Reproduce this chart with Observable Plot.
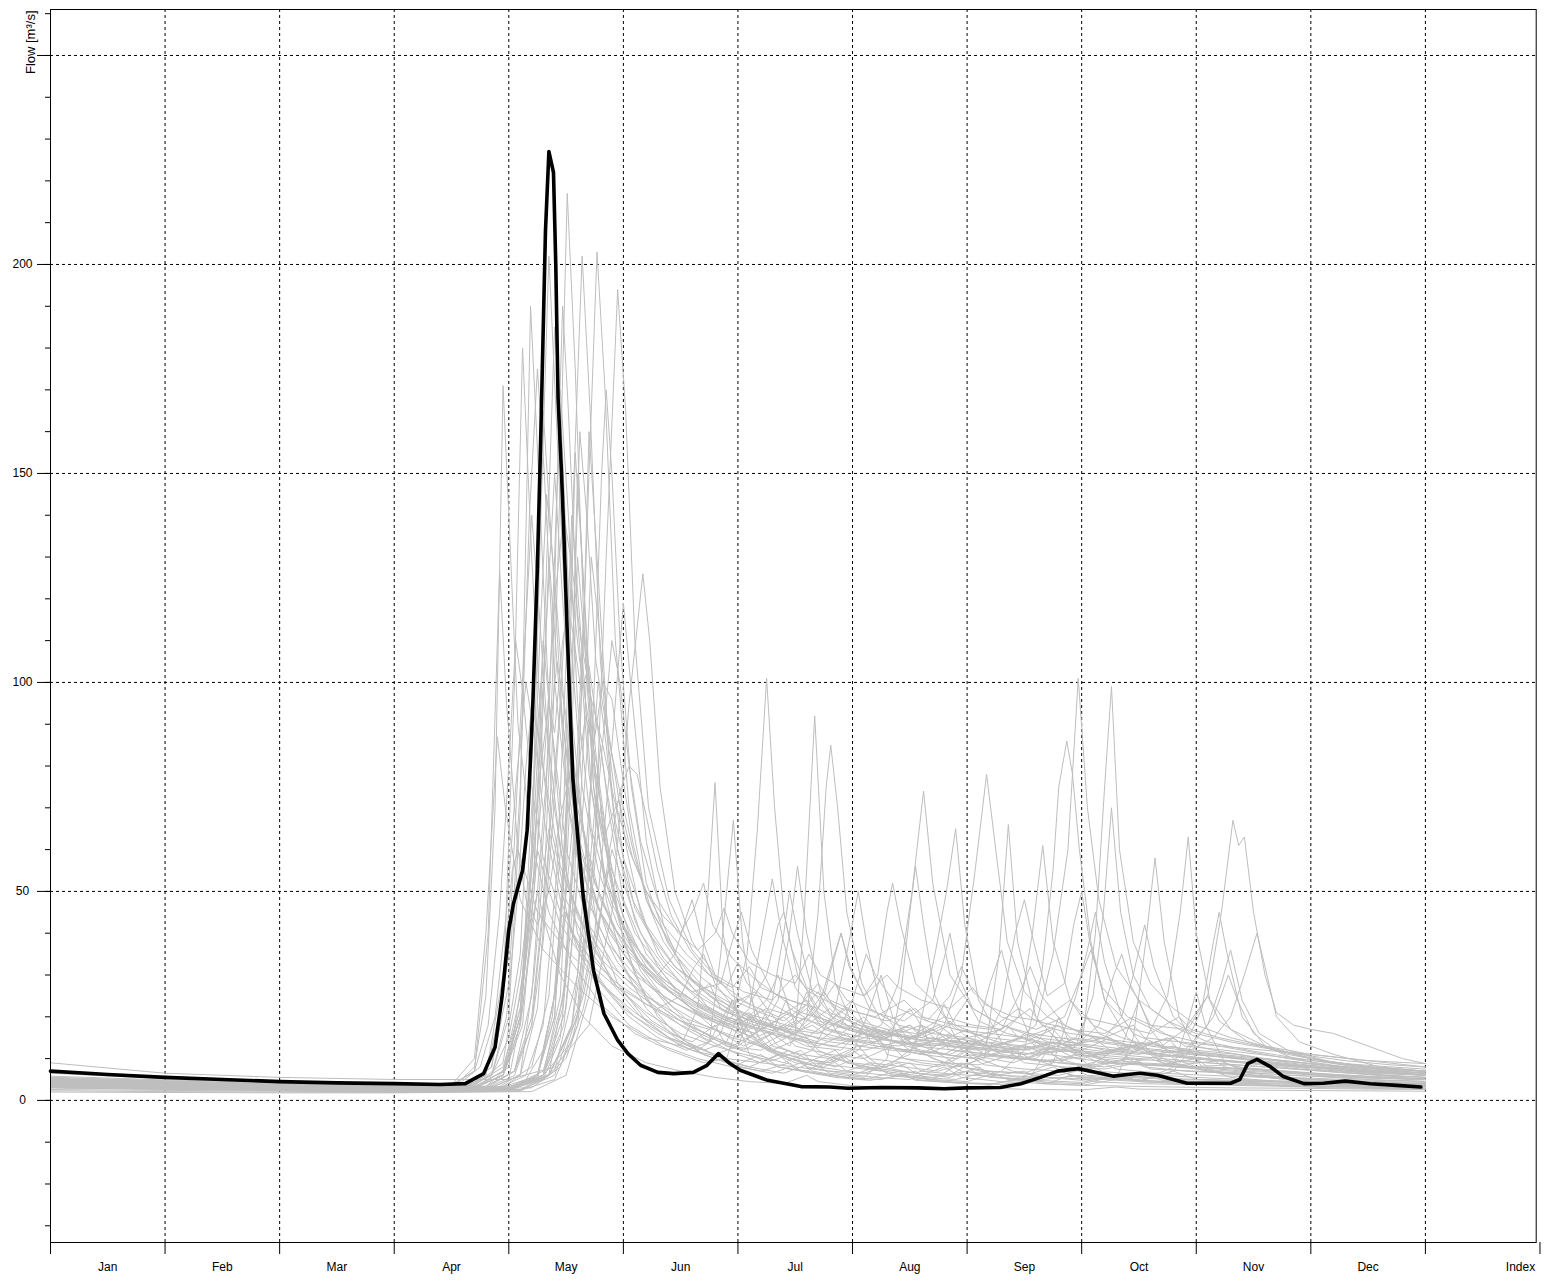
<!DOCTYPE html>
<html><head><meta charset="utf-8">
<script src="https://cdn.jsdelivr.net/npm/d3@7"></script>
<script src="https://cdn.jsdelivr.net/npm/@observablehq/plot@0.6"></script>
<style>body{margin:0;background:#fff} svg{display:block;overflow:visible}</style>
</head><body><div id="chart"></div>
<script>
// Axis / label arrays
const monthLabels = ["Jan","Feb","Mar","Apr","May","Jun","Jul","Aug","Sep","Oct","Nov","Dec","Index"];
const monthLabelPos = [0.5,1.5,2.5,3.5,4.5,5.5,6.5,7.5,8.5,9.5,10.5,11.5,12.83];
const monthBounds = [0,1,2,3,4,5,6,7,8,9,10,11,12,13];
const gridMonths = [1,2,3,4,5,6,7,8,9,10,11,12];
const yMajor = [0,50,100,150,200,250];
const yMajorLabels = ["0","50","100","150","200",""];
const yMinor = [-30,-20,-10,0,10,20,30,40,50,60,70,80,90,100,110,120,130,140,150,160,170,180,190,200,210,220,230,240,250,260];
const yAxisTitle = "Flow [m³/s]";

// Highlighted (black) series: month position and flow
const observedMonth = [0,0.5,1,1.5,2,2.5,3,3.4,3.62,3.78,3.88,3.94,4.0,4.04,4.12,4.16,4.19,4.21,4.25,4.28,4.32,4.35,4.39,4.41,4.43,4.46,4.48,4.51,4.54,4.56,4.61,4.65,4.74,4.83,4.95,5.04,5.15,5.3,5.44,5.61,5.73,5.83,5.93,6.02,6.26,6.55,6.8,6.96,7.25,7.57,7.8,8.0,8.29,8.47,8.64,8.79,8.97,9.16,9.28,9.4,9.51,9.66,9.92,10.3,10.38,10.45,10.53,10.65,10.76,10.94,11.11,11.3,11.52,11.75,11.96];
const observedFlow  = [7,6.2,5.5,5,4.5,4.2,4,3.8,4,6.4,12.7,24.6,40.7,47,55,64.6,82,95,128,160,208,227,222,200,168,150,136,112,90,76.6,60.5,48.6,31,20.8,14.4,11.2,8.4,6.7,6.4,6.7,8.4,11.2,8.8,7.2,4.8,3.3,3.2,2.9,3.1,3.0,2.8,3.0,3.1,4,5.5,7,7.6,6.5,5.8,6.2,6.5,6,4.1,4.1,5,8.8,9.8,8,5.7,4,4.1,4.6,4,3.6,3.2];

// Other years (grey): [month, flow] pairs
const y01 = [[0,6.5],[1,5.2],[2,4.4],[3,3.8],[3.55,4],[3.7,8],[3.8,25],[3.88,70],[3.95,171],[4.0,140],[4.08,90],[4.2,62],[4.35,45],[4.55,33],[4.8,23],[5.1,16],[5.4,12],[5.7,9],[5.9,10],[6.0,18],[6.1,11],[6.35,8],[6.6,7],[6.8,10],[6.95,7],[7.3,6],[7.7,5],[7.95,9],[8.1,6],[8.5,5],[8.8,7],[9.0,5.5],[9.5,5],[9.8,7],[10.0,5],[10.5,4.5],[11,4.2],[11.5,4],[12,3.8]];
const y02 = [[0,5],[1,4.2],[2,3.6],[3,3.2],[3.5,3.5],[3.7,7],[3.82,40],[3.92,127],[3.98,95],[4.08,60],[4.25,45],[4.5,36],[4.8,28],[5.1,21],[5.4,16],[5.6,14],[5.8,18],[5.9,13],[6.2,12],[6.5,16],[6.58,45],[6.67,92],[6.75,50],[6.85,28],[7.0,18],[7.3,13],[7.6,11],[7.85,15],[8.0,11],[8.4,9],[8.7,12],[8.85,9],[9.2,8],[9.6,10],[9.8,8],[10.3,7],[10.8,6],[11.3,5.5],[12,5]];
const y03 = [[0,5.5],[1,4.6],[2,4],[3,3.5],[3.5,3.7],[3.7,10],[3.8,40],[3.9,87],[3.97,70],[4.1,48],[4.3,36],[4.6,27],[4.9,20],[5.2,15],[5.5,13],[5.65,22],[5.74,50],[5.8,76],[5.87,40],[6.0,20],[6.2,13],[6.45,10],[6.7,8],[6.9,11],[7.05,8],[7.4,6.5],[7.7,5.5],[8.0,7],[8.2,5.5],[8.6,4.8],[9.0,6],[9.3,5],[9.7,4.5],[10.1,4.2],[10.6,4],[11.2,3.6],[12,3.3]];
const y04 = [[0,4.5],[1,3.8],[2,3.2],[3,2.8],[3.6,3],[3.8,6],[3.95,25],[4.05,100],[4.12,180],[4.2,130],[4.3,80],[4.45,56],[4.65,42],[4.9,32],[5.2,25],[5.5,20],[5.8,17],[6.0,15],[6.2,22],[6.35,16],[6.6,13],[6.9,12],[7.1,18],[7.25,13],[7.6,11],[7.9,10],[8.1,14],[8.3,11],[8.6,10],[8.85,15],[9.0,13],[9.12,40],[9.2,75],[9.26,99],[9.33,60],[9.45,38],[9.6,28],[9.8,22],[10.0,18],[10.3,15],[10.6,13],[11,11],[11.5,9.5],[12,8.8]];
const y05 = [[0,4],[1,3.5],[2,3],[3,2.6],[3.6,2.8],[3.85,6],[4.0,20],[4.1,70],[4.19,190],[4.26,150],[4.35,95],[4.5,60],[4.7,42],[4.95,31],[5.25,23],[5.55,17],[5.75,14],[5.95,24],[6.05,16],[6.3,12],[6.55,10],[6.8,9],[7.05,12],[7.2,17],[7.3,11],[7.6,9],[7.9,8],[8.15,10],[8.28,35],[8.36,66],[8.44,38],[8.6,20],[8.8,14],[9.0,11],[9.3,9],[9.55,13],[9.7,9],[10.0,8],[10.4,7],[10.8,6.5],[11.3,5.5],[12,5]];
const y06 = [[0,4.8],[1,4],[2,3.4],[3,3],[3.7,3.2],[3.95,6],[4.1,20],[4.2,60],[4.28,140],[4.35,202],[4.42,160],[4.52,100],[4.65,65],[4.8,48],[5.0,37],[5.3,28],[5.6,22],[5.9,18],[6.15,16],[6.4,20],[6.55,16],[6.8,14],[7.1,13],[7.4,16],[7.55,13],[7.9,12],[8.2,11],[8.5,13],[8.7,11],[9.0,10],[9.3,12],[9.55,14],[9.75,25],[9.86,45],[9.93,63],[10.0,40],[10.12,24],[10.3,17],[10.6,13],[11,10],[11.5,8],[12,6.8]];
const y07 = [[0,3.5],[1,3],[2,2.6],[3,2.3],[3.8,2.6],[4.1,6],[4.25,22],[4.35,60],[4.43,130],[4.51,217],[4.58,175],[4.66,110],[4.78,70],[4.95,45],[5.15,31],[5.4,22],[5.7,15],[6.0,11],[6.2,9],[6.45,12],[6.6,8],[6.9,6.5],[7.2,5.5],[7.5,5],[7.8,8],[7.95,5.5],[8.3,4.5],[8.7,4],[8.9,6],[9.1,4.5],[9.5,4],[9.9,3.8],[10.3,3.6],[10.7,3.4],[11.2,3],[12,2.7]];
const y08 = [[0,4.2],[1,3.6],[2,3.1],[3,2.7],[3.9,3],[4.2,8],[4.35,25],[4.48,70],[4.57,150],[4.64,202],[4.71,165],[4.8,105],[4.92,68],[5.1,46],[5.35,34],[5.6,27],[5.85,22],[6.1,19],[6.35,17],[6.6,22],[6.75,17],[7.0,15],[7.25,18],[7.4,28],[7.52,50],[7.62,74],[7.7,52],[7.85,30],[8.05,22],[8.3,18],[8.6,15],[8.9,14],[9.2,12],[9.5,11],[9.8,13],[10.0,11],[10.4,10],[10.8,8.5],[11.3,7],[12,6]];
const y09 = [[0,3.8],[1,3.3],[2,2.9],[3,2.6],[4.0,3],[4.3,7],[4.48,25],[4.6,70],[4.7,150],[4.77,203],[4.84,170],[4.93,110],[5.05,70],[5.2,48],[5.45,35],[5.7,27],[5.95,22],[6.2,19],[6.45,17],[6.7,16],[6.95,20],[7.1,16],[7.4,14],[7.7,13],[8.0,15],[8.2,13],[8.45,20],[8.57,40],[8.66,61],[8.75,38],[8.9,24],[9.1,18],[9.35,15],[9.6,13],[9.9,12],[10.2,11],[10.6,9],[11,8],[11.5,7],[12,6]];
const y10 = [[0,3.6],[1,3.1],[2,2.7],[3,2.4],[4.0,2.6],[4.35,6],[4.6,20],[4.75,60],[4.85,130],[4.95,194],[5.02,165],[5.1,110],[5.22,70],[5.4,48],[5.6,36],[5.85,28],[6.1,23],[6.35,20],[6.6,24],[6.75,19],[7.0,17],[7.3,15],[7.6,18],[7.75,14],[8.0,13],[8.3,12],[8.6,14],[8.8,12],[9.1,11],[9.4,13],[9.6,11],[9.9,12],[10.1,18],[10.22,28],[10.3,36],[10.4,24],[10.55,16],[10.8,12],[11.2,9],[11.6,7.5],[12,6.5]];
const y11 = [[0,4.3],[1,3.7],[2,3.2],[3,2.8],[4.0,3],[4.3,6],[4.55,14],[4.75,40],[4.9,85],[5.0,119],[5.08,95],[5.2,62],[5.35,42],[5.55,29],[5.8,20],[6.05,15],[6.3,12],[6.55,15],[6.7,11],[7.0,9],[7.3,8],[7.55,13],[7.72,35],[7.82,50],[7.9,65],[7.98,42],[8.1,24],[8.3,14],[8.55,10],[8.8,8],[9.1,7],[9.4,6.5],[9.7,6],[10.0,5.5],[10.4,5],[10.9,4.5],[11.5,4],[12,3.6]];
const y12 = [[0,9],[1,6.5],[2,5.5],[3,5],[4.0,5],[4.4,8],[4.7,18],[4.9,45],[5.05,95],[5.17,126],[5.23,110],[5.32,75],[5.45,50],[5.6,38],[5.8,30],[6.05,26],[6.3,24],[6.5,30],[6.62,26],[6.9,22],[7.2,20],[7.45,24],[7.6,20],[7.9,18],[8.2,17],[8.45,22],[8.6,19],[8.9,17],[9.2,16],[9.45,20],[9.6,18],[9.9,17],[10.1,25],[10.22,45],[10.32,67],[10.37,61],[10.42,63],[10.5,45],[10.6,30],[10.7,21],[10.85,18],[11.0,17],[11.2,16],[11.5,13],[11.8,10],[12,8.8]];
const y13 = [[0,5],[1,4.2],[2,3.6],[3,3.1],[3.7,3.3],[3.95,7],[4.1,20],[4.22,55],[4.32,110],[4.4,150],[4.47,120],[4.57,80],[4.7,56],[4.9,42],[5.15,33],[5.45,26],[5.75,21],[6.0,18],[6.25,22],[6.4,17],[6.7,15],[7.0,14],[7.3,17],[7.45,14],[7.8,13],[8.1,12],[8.4,14],[8.6,18],[8.75,35],[8.88,60],[8.97,101],[9.05,70],[9.15,48],[9.3,32],[9.5,24],[9.75,19],[10.0,16],[10.3,14],[10.7,12],[11.2,9],[11.7,7.5],[12,7]];
const y14 = [[0,4.4],[1,3.8],[2,3.3],[3,2.9],[3.7,3],[3.95,6],[4.1,18],[4.2,55],[4.3,110],[4.37,90],[4.47,60],[4.6,40],[4.8,28],[5.05,20],[5.3,15],[5.55,12],[5.75,14],[5.85,35],[5.96,67],[6.04,38],[6.15,20],[6.35,13],[6.6,10],[6.85,8],[7.1,11],[7.25,8],[7.55,6.5],[7.85,5.5],[8.1,8],[8.25,5.5],[8.6,4.8],[9.0,4.3],[9.3,6],[9.5,4.5],[9.9,4],[10.3,3.8],[10.8,3.5],[11.4,3.2],[12,3]];
const y15 = [[0,3.9],[1,3.4],[2,3],[3,2.6],[3.9,2.8],[4.15,6],[4.3,18],[4.42,55],[4.5,105],[4.55,140],[4.62,115],[4.72,75],[4.85,52],[5.05,39],[5.3,30],[5.6,24],[5.9,20],[6.15,18],[6.4,16],[6.65,21],[6.8,17],[7.1,15],[7.4,14],[7.7,17],[7.85,14],[8.15,13],[8.45,12],[8.75,14],[8.95,13],[9.1,25],[9.19,45],[9.26,70],[9.34,45],[9.45,30],[9.6,22],[9.85,17],[10.1,14],[10.45,12],[10.9,10],[11.4,8],[12,7]];
const y16 = [[0,4.6],[1,4],[2,3.5],[3,3.1],[3.8,3.3],[4.05,7],[4.2,20],[4.33,55],[4.45,95],[4.52,80],[4.62,58],[4.76,43],[4.95,33],[5.2,25],[5.5,19],[5.8,15],[6.05,12],[6.3,16],[6.45,13],[6.6,20],[6.7,45],[6.77,75],[6.81,85],[6.87,70],[6.95,45],[7.08,28],[7.25,19],[7.5,14],[7.8,11],[8.05,10],[8.3,13],[8.45,10],[8.8,9],[9.1,8],[9.4,10],[9.55,8],[9.9,7],[10.3,6.5],[10.8,5.5],[11.3,5],[12,4.5]];
const y17 = [[0,3.3],[1,2.9],[2,2.6],[3,2.3],[4.0,2.5],[4.3,5],[4.45,15],[4.57,50],[4.65,110],[4.7,160],[4.77,130],[4.87,85],[5.0,58],[5.2,42],[5.45,32],[5.75,25],[6.05,21],[6.3,19],[6.55,17],[6.8,22],[6.95,18],[7.25,16],[7.55,15],[7.8,18],[7.95,30],[8.07,55],[8.17,78],[8.25,60],[8.35,38],[8.5,26],[8.7,20],[9.0,16],[9.3,14],[9.6,12],[9.95,11],[10.4,10],[10.9,8.5],[11.5,7],[12,6.2]];
const y18 = [[0,2.3],[1,2.1],[2,2],[3,1.9],[4.1,2.2],[4.35,6],[4.5,30],[4.6,75],[4.67,60],[4.78,40],[4.95,28],[5.2,19],[5.5,13],[5.8,10],[6.1,8],[6.35,11],[6.5,7.5],[6.8,6],[7.1,5],[7.4,7],[7.55,5],[7.9,4.2],[8.2,3.8],[8.5,5.5],[8.65,4],[9.0,3.6],[9.3,5],[9.45,15],[9.56,38],[9.64,58],[9.72,38],[9.85,20],[10.0,12],[10.25,8],[10.6,6],[11,5],[11.5,4],[12,3.4]];
const y19 = [[0,4.1],[1,3.6],[2,3.1],[3,2.8],[3.7,3],[3.95,7],[4.1,25],[4.18,45],[4.25,60],[4.33,52],[4.45,42],[4.65,34],[4.9,28],[5.2,23],[5.5,19],[5.75,17],[5.95,20],[6.08,35],[6.17,65],[6.25,101],[6.32,70],[6.4,45],[6.52,30],[6.7,22],[6.95,18],[7.2,16],[7.5,15],[7.75,18],[7.9,15],[8.2,13],[8.5,12],[8.8,14],[8.95,12],[9.3,11],[9.7,10],[10.1,9],[10.6,8],[11.1,7],[11.6,6],[12,5.5]];
const y20 = [[0,3.4],[1,3],[2,2.6],[3,2.3],[4.1,2.5],[4.4,6],[4.6,22],[4.72,60],[4.8,85],[4.88,68],[5.0,48],[5.2,35],[5.45,27],[5.7,22],[5.95,19],[6.2,17],[6.35,24],[6.45,40],[6.52,56],[6.6,40],[6.72,26],[6.9,20],[7.15,17],[7.45,15],[7.75,14],[8.0,17],[8.15,14],[8.5,13],[8.8,12],[9.1,15],[9.25,12],[9.6,11],[9.95,12],[10.15,15],[10.3,20],[10.42,30],[10.53,40],[10.6,32],[10.7,20],[10.9,14],[11.2,11],[11.6,8],[12,7]];
const y21 = [[0,3.2],[1,2.8],[2,2.5],[3,2.2],[4.0,2.4],[4.25,6],[4.4,25],[4.5,45],[4.6,36],[4.8,26],[5.05,18],[5.35,13],[5.65,10],[5.95,8],[6.2,11],[6.35,8],[6.65,6.5],[6.95,5.5],[7.2,8],[7.35,6],[7.7,5],[8.0,4.5],[8.3,7],[8.5,12],[8.65,30],[8.75,55],[8.8,75],[8.87,86],[8.92,78],[8.98,60],[9.08,38],[9.2,24],[9.4,15],[9.65,10],[9.9,8],[10.2,6.5],[10.6,5.5],[11,5],[11.5,4.2],[12,3.8]];
const y22 = [[0,2],[1,1.9],[2,1.8],[3,1.8],[4.2,2.1],[4.5,6],[4.7,25],[4.8,45],[4.87,55],[4.95,44],[5.1,30],[5.3,20],[5.55,14],[5.85,10],[6.1,8],[6.4,6.5],[6.65,9],[6.8,6.5],[7.1,5.5],[7.3,10],[7.42,25],[7.5,45],[7.55,56],[7.62,42],[7.72,25],[7.9,15],[8.1,10],[8.4,7],[8.7,5.5],[9.0,4.8],[9.35,6],[9.5,4.5],[9.8,8],[9.92,18],[10.0,26],[10.08,18],[10.25,9],[10.5,6],[10.9,4.5],[11.4,3.5],[12,2.8]];
const y23 = [[0,4.7],[1,4.1],[2,3.5],[3,3.1],[3.7,3.3],[3.95,6],[4.12,18],[4.25,60],[4.35,130],[4.42,105],[4.52,70],[4.65,50],[4.85,38],[5.1,30],[5.4,24],[5.7,20],[5.95,18],[6.1,22],[6.2,38],[6.3,53],[6.38,40],[6.5,27],[6.7,20],[6.95,17],[7.2,15],[7.5,18],[7.65,15],[7.95,14],[8.25,13],[8.55,16],[8.7,14],[9.0,13],[9.3,12],[9.6,14],[9.75,12],[10.1,11],[10.5,10],[10.9,9],[11.4,7.5],[12,6.5]];
const y24 = [[0,3.7],[1,3.2],[2,2.8],[3,2.5],[4.0,2.7],[4.3,6],[4.47,22],[4.57,65],[4.65,115],[4.72,95],[4.82,65],[4.95,45],[5.15,32],[5.4,23],[5.65,17],[5.9,13],[6.15,11],[6.4,9],[6.65,12],[6.85,22],[6.97,38],[7.05,50],[7.12,38],[7.25,22],[7.45,14],[7.7,10],[7.95,8],[8.2,7],[8.5,6.5],[8.75,9],[8.95,25],[9.05,36],[9.12,45],[9.2,33],[9.35,20],[9.55,12],[9.8,9],[10.1,7],[10.5,6],[11,5],[11.5,4.5],[12,4]];
const y25 = [[0,4.9],[1,4.2],[2,3.6],[3,3.1],[3.8,3.3],[4.0,8],[4.12,30],[4.2,70],[4.28,100],[4.35,85],[4.45,60],[4.6,44],[4.8,34],[5.05,27],[5.3,22],[5.5,25],[5.62,32],[5.7,35],[5.8,28],[6.0,21],[6.25,18],[6.5,16],[6.7,22],[6.82,33],[6.9,40],[6.98,32],[7.15,22],[7.4,18],[7.7,16],[8.0,15],[8.3,17],[8.45,25],[8.55,32],[8.65,25],[8.85,18],[9.1,15],[9.4,14],[9.7,13],[9.95,18],[10.1,25],[10.2,19],[10.45,14],[10.8,11],[11.3,8.5],[12,7]];
const y26 = [[0,3.1],[1,2.7],[2,2.4],[3,2.1],[4.0,2.3],[4.25,5],[4.4,25],[4.47,50],[4.52,75],[4.6,58],[4.72,40],[4.9,28],[5.15,20],[5.4,15],[5.65,12],[5.85,16],[5.95,24],[6.05,18],[6.25,12],[6.5,9],[6.75,8],[7.0,11],[7.15,22],[7.25,30],[7.35,20],[7.55,12],[7.8,9],[8.05,13],[8.2,28],[8.3,36],[8.4,25],[8.55,15],[8.8,10],[9.05,8],[9.35,13],[9.5,24],[9.6,17],[9.8,10],[10.05,7.5],[10.4,6],[10.8,5],[11.3,4.2],[12,3.5]];
const y27 = [[0,3.9],[1,3.4],[2,3],[3,2.7],[4.2,3],[4.45,8],[4.65,25],[4.8,45],[4.9,60],[5.0,52],[5.15,40],[5.35,32],[5.6,26],[5.85,28],[5.95,38],[6.03,45],[6.12,36],[6.3,26],[6.55,21],[6.8,19],[7.0,24],[7.12,35],[7.2,30],[7.4,22],[7.65,19],[7.85,25],[7.95,32],[8.05,26],[8.3,20],[8.6,17],[8.85,20],[9.0,30],[9.08,36],[9.18,27],[9.4,20],[9.7,16],[10.0,14],[10.4,12],[10.8,10],[11.3,8],[12,6.5]];
const y28 = [[0,3.6],[1,3.1],[2,2.7],[3,2.4],[4.1,2.6],[4.4,7],[4.6,30],[4.7,70],[4.78,100],[4.85,85],[4.95,60],[5.1,43],[5.3,32],[5.55,23],[5.8,17],[6.05,13],[6.3,16],[6.42,24],[6.5,18],[6.7,12],[6.95,9],[7.2,7.5],[7.5,11],[7.6,18],[7.7,12],[7.95,8],[8.2,6.5],[8.45,5.5],[8.75,8],[8.9,6],[9.2,5],[9.5,4.5],[9.8,7],[9.95,12],[10.05,8],[10.3,5.5],[10.7,4.5],[11.2,4],[12,3.5]];
const y29 = [[0,4.3],[1,3.7],[2,3.2],[3,2.8],[3.6,3],[3.85,8],[4.0,35],[4.1,90],[4.2,140],[4.27,115],[4.37,75],[4.5,52],[4.7,38],[4.95,27],[5.25,19],[5.55,14],[5.8,11],[6.0,13],[6.1,20],[6.2,14],[6.45,10],[6.7,8],[6.95,7],[7.15,9],[7.3,6.5],[7.6,5.5],[7.9,5],[8.2,7],[8.35,5],[8.7,4.3],[9.0,4],[9.35,6],[9.5,4.5],[9.9,4],[10.4,3.7],[10.9,3.4],[11.5,3.1],[12,2.9]];
const y30 = [[0,4],[1,3.5],[2,3],[3,2.7],[3.8,2.9],[4.05,7],[4.2,25],[4.32,70],[4.4,130],[4.45,170],[4.52,140],[4.6,95],[4.72,65],[4.9,47],[5.1,37],[5.35,29],[5.65,23],[5.95,19],[6.2,17],[6.45,21],[6.6,17],[6.9,15],[7.2,14],[7.45,17],[7.6,14],[7.9,13],[8.2,12],[8.5,11],[8.8,13],[8.95,11],[9.3,10],[9.7,9.5],[10.1,9],[10.6,8],[11.1,7],[11.6,6],[12,5.5]];
const y31 = [[0,3.5],[1,3],[2,2.7],[3,2.4],[4.0,2.6],[4.25,6],[4.4,20],[4.5,70],[4.58,155],[4.65,125],[4.75,80],[4.9,55],[5.1,40],[5.35,31],[5.65,25],[5.9,21],[6.15,19],[6.4,17],[6.6,20],[6.75,26],[6.85,22],[7.1,18],[7.35,16],[7.6,15],[7.85,18],[8.0,24],[8.1,19],[8.35,16],[8.65,14],[8.9,13],[9.2,15],[9.35,20],[9.45,16],[9.7,13],[10.0,12],[10.35,11],[10.8,9],[11.3,7.5],[12,6]];
const y32 = [[0,5.2],[1,4.4],[2,3.8],[3,3.3],[3.7,3.5],[3.95,9],[4.1,35],[4.2,90],[4.3,165],[4.37,135],[4.47,90],[4.6,62],[4.78,46],[5.0,36],[5.3,28],[5.6,23],[5.9,19],[6.15,17],[6.4,15],[6.65,18],[6.8,15],[7.1,14],[7.4,13],[7.7,15],[7.85,13],[8.2,12],[8.5,11],[8.8,12],[9.1,11],[9.5,10],[9.9,11],[10.15,20],[10.28,30],[10.36,24],[10.5,16],[10.7,12],[11,10],[11.5,8],[12,7]];
const y33 = [[0,4.6],[1,3.9],[2,3.4],[3,3],[3.6,3.3],[3.85,6],[4.0,15],[4.1,30],[4.2,55],[4.28,80],[4.35,95],[4.4,88],[4.47,110],[4.55,122],[4.62,105],[4.7,90],[4.78,70],[4.9,52],[5.05,40],[5.2,33],[5.4,27],[5.6,24],[5.75,28],[5.85,22],[6.05,19],[6.25,24],[6.35,30],[6.45,22],[6.7,18],[6.9,16],[7.1,20],[7.2,17],[7.45,15],[7.7,14],[7.85,19],[8.0,15],[8.3,13],[8.55,12],[8.7,17],[8.85,13],[9.1,12],[9.4,11],[9.65,14],[9.8,11],[10.1,10],[10.5,9],[11,7.5],[11.5,6.5],[12,6]];
const y34 = [[0,3.8],[1,3.3],[2,2.9],[3,2.6],[3.9,2.8],[4.15,5],[4.3,12],[4.42,28],[4.52,55],[4.6,78],[4.67,92],[4.74,85],[4.82,100],[4.9,96],[4.98,80],[5.08,62],[5.2,48],[5.35,38],[5.55,30],[5.75,25],[5.95,21],[6.1,25],[6.2,19],[6.45,16],[6.7,14],[6.9,18],[7.0,24],[7.1,18],[7.35,14],[7.6,12],[7.85,11],[8.1,14],[8.2,11],[8.5,10],[8.8,9],[9.0,12],[9.15,10],[9.5,9],[9.85,8.5],[10.2,9.5],[10.35,8],[10.8,7],[11.3,6],[12,5]];
const y35 = [[0,4.5],[1,3.9],[2,3.4],[3,3],[4.0,3.2],[4.3,5],[4.5,10],[4.65,22],[4.78,40],[4.88,60],[4.97,74],[5.05,80],[5.12,78],[5.2,68],[5.3,55],[5.42,44],[5.58,36],[5.75,30],[5.9,27],[6.0,33],[6.08,28],[6.3,23],[6.5,20],[6.7,26],[6.8,21],[7.05,18],[7.3,16],[7.5,22],[7.6,18],[7.85,15],[8.1,14],[8.35,18],[8.45,15],[8.75,13],[9.0,12],[9.25,15],[9.35,12],[9.7,11],[10.05,10],[10.5,9],[11,8],[11.5,7],[12,6.5]];
const y36 = [[0,5.8],[1,4.9],[2,4.2],[3,3.6],[3.5,3.8],[3.7,7],[3.82,18],[3.92,45],[4.0,80],[4.06,110],[4.12,98],[4.2,75],[4.3,58],[4.45,45],[4.65,36],[4.9,29],[5.2,23],[5.5,18],[5.75,15],[5.95,13],[6.15,16],[6.3,12],[6.55,10],[6.8,9],[7.0,12],[7.15,9],[7.45,8],[7.75,7],[8.0,9],[8.15,7],[8.5,6.5],[8.8,6],[9.1,8],[9.25,6],[9.6,5.5],[10.0,5],[10.5,4.7],[11,4.4],[11.5,4.1],[12,3.9]];
const y37 = [[0,3.2],[1,2.8],[2,2.5],[3,2.3],[4.0,2.5],[4.3,6],[4.45,25],[4.53,70],[4.6,130],[4.66,110],[4.74,75],[4.82,62],[4.9,68],[4.96,72],[5.03,60],[5.15,45],[5.3,35],[5.5,28],[5.7,23],[5.9,20],[6.1,18],[6.3,16],[6.5,19],[6.6,26],[6.7,21],[6.95,17],[7.2,15],[7.45,14],[7.7,17],[7.8,23],[7.9,18],[8.15,15],[8.4,13],[8.7,12],[8.95,15],[9.05,20],[9.15,16],[9.4,13],[9.7,11],[10.0,10],[10.4,9],[10.9,7.5],[11.4,6.5],[12,5.5]];
const y38 = [[0,5.5],[1,4.7],[2,4],[3,3.5],[3.7,3.7],[3.95,8],[4.1,22],[4.22,50],[4.32,85],[4.4,120],[4.48,140],[4.55,128],[4.63,110],[4.72,96],[4.82,85],[4.92,72],[5.05,60],[5.2,50],[5.35,42],[5.55,35],[5.75,30],[5.95,27],[6.1,32],[6.2,27],[6.45,24],[6.7,22],[6.85,28],[6.95,24],[7.2,21],[7.45,19],[7.7,24],[7.8,20],[8.05,18],[8.3,17],[8.55,22],[8.65,18],[8.9,16],[9.2,15],[9.45,18],[9.55,15],[9.85,14],[10.2,13],[10.6,12],[11,11],[11.5,9.5],[12,8]];
const y39 = [[0,3],[1,2.7],[2,2.4],[3,2.2],[3.9,2.4],[4.1,6],[4.22,30],[4.3,55],[4.35,65],[4.42,55],[4.55,40],[4.75,30],[5.0,22],[5.3,16],[5.6,12],[5.9,10],[6.2,9],[6.5,8],[6.8,7],[7.1,6.5],[7.4,9],[7.55,6.5],[7.85,6],[8.1,10],[8.3,22],[8.42,40],[8.5,48],[8.58,38],[8.7,25],[8.85,28],[8.93,42],[9.0,50],[9.07,38],[9.2,24],[9.35,20],[9.45,30],[9.55,42],[9.63,32],[9.8,20],[9.95,16],[10.05,22],[10.15,38],[10.2,45],[10.27,35],[10.4,20],[10.6,13],[10.85,10],[11.2,8],[11.6,6],[12,5]];
const y40 = [[0,4],[1,3.5],[2,3],[3,2.7],[4.0,2.9],[4.3,6],[4.5,22],[4.62,60],[4.7,90],[4.77,80],[4.88,58],[5.0,44],[5.15,35],[5.3,30],[5.45,35],[5.55,44],[5.6,48],[5.67,40],[5.8,30],[5.95,25],[6.1,23],[6.25,30],[6.35,42],[6.4,45],[6.47,36],[6.6,27],[6.75,25],[6.85,35],[6.9,40],[6.97,32],[7.1,25],[7.22,30],[7.3,45],[7.35,52],[7.42,42],[7.55,28],[7.7,24],[7.8,34],[7.85,40],[7.92,30],[8.05,22],[8.3,18],[8.55,16],[8.8,15],[9.1,14],[9.4,13],[9.7,12],[10.0,11],[10.5,9.5],[11,8],[11.5,7],[12,6]];
const y41 = [[0,2.6],[1,2.4],[2,2.2],[3,2],[3.8,2.2],[4.0,5],[4.12,22],[4.2,42],[4.25,50],[4.32,42],[4.45,30],[4.65,20],[4.9,13],[5.2,9],[5.5,7],[5.8,5.5],[6.1,4.5],[6.4,4],[6.6,6],[6.7,4.5],[7.0,3.5],[7.3,3.1],[7.6,2.9],[7.9,2.7],[8.2,3.5],[8.3,2.8],[8.6,2.6],[9.0,2.5],[9.3,3.2],[9.5,2.7],[9.9,2.6],[10.3,2.5],[10.8,2.4],[11.3,2.3],[12,2.2]];
const y42 = [[0,3],[1,2.6],[2,2.4],[3,2.2],[4.1,2.4],[4.4,5],[4.6,18],[4.72,48],[4.8,70],[4.87,58],[5.0,38],[5.2,24],[5.45,16],[5.7,11],[6.0,8],[6.3,6.5],[6.55,9],[6.65,7],[6.95,5.5],[7.25,5],[7.55,7],[7.65,5],[7.95,4.2],[8.25,4],[8.55,5.5],[8.7,12],[8.8,20],[8.9,13],[9.1,7],[9.4,5],[9.75,4.5],[10.1,4.2],[10.6,3.8],[11.1,3.4],[11.6,3.1],[12,2.9]];
const y43 = [[0,5.3],[1,4.5],[2,3.9],[3,3.4],[3.55,3.6],[3.75,8],[3.88,20],[3.98,45],[4.06,75],[4.15,100],[4.22,88],[4.32,65],[4.45,48],[4.62,36],[4.85,27],[5.1,20],[5.4,15],[5.7,12],[5.9,14],[6.0,20],[6.1,14],[6.35,11],[6.6,9],[6.85,12],[6.95,9],[7.25,7.5],[7.55,6.5],[7.8,9],[7.95,7],[8.3,6],[8.65,5.5],[8.9,8],[9.05,6],[9.4,5.5],[9.8,5],[10.2,4.8],[10.7,4.5],[11.2,4.2],[12,4]];
const y44 = [[0,4.4],[1,3.8],[2,3.3],[3,2.9],[4.0,3.1],[4.35,6],[4.55,18],[4.7,45],[4.8,80],[4.9,110],[4.97,100],[5.05,80],[5.15,62],[5.3,48],[5.48,40],[5.65,36],[5.8,40],[5.88,46],[5.95,40],[6.1,33],[6.3,30],[6.5,28],[6.62,35],[6.72,30],[6.9,27],[7.1,25],[7.3,30],[7.4,27],[7.6,24],[7.85,22],[8.05,27],[8.15,23],[8.4,20],[8.65,19],[8.9,24],[9.0,20],[9.3,18],[9.6,16],[9.85,20],[9.95,17],[10.2,15],[10.55,13],[10.9,11],[11.3,9.5],[11.7,8.5],[12,8]];
const y45 = [[0,3.4],[1,3],[2,2.7],[3,2.4],[3.95,2.6],[4.25,6],[4.4,20],[4.5,60],[4.56,110],[4.6,150],[4.66,120],[4.74,75],[4.85,48],[5.0,32],[5.2,22],[5.45,15],[5.7,11],[5.95,8.5],[6.2,7],[6.45,9],[6.55,7],[6.85,5.5],[7.15,4.8],[7.45,6],[7.55,4.8],[7.9,4.2],[8.3,3.8],[8.6,5],[8.7,4],[9.0,3.6],[9.4,3.4],[9.8,3.2],[10.3,3],[10.9,2.9],[11.5,2.7],[12,2.6]];
const y46 = [[0,4.2],[1,3.6],[2,3.1],[3,2.8],[3.7,3],[3.95,6],[4.1,18],[4.25,50],[4.35,85],[4.42,105],[4.5,92],[4.6,70],[4.75,52],[4.95,40],[5.2,31],[5.45,25],[5.7,21],[5.95,18],[6.15,16],[6.3,24],[6.4,40],[6.45,50],[6.52,40],[6.65,26],[6.85,19],[7.1,16],[7.35,14],[7.6,13],[7.85,16],[8.0,13],[8.3,12],[8.6,11],[8.9,12],[9.15,18],[9.28,30],[9.35,35],[9.42,28],[9.6,18],[9.85,14],[10.15,12],[10.6,10],[11.1,8.5],[11.6,7],[12,6.5]];
const y47 = [[0,3.7],[1,3.2],[2,2.8],[3,2.5],[4.0,2.7],[4.35,6],[4.55,18],[4.68,50],[4.76,110],[4.81,150],[4.85,170],[4.9,150],[4.97,110],[5.07,75],[5.2,52],[5.38,38],[5.6,29],[5.85,23],[6.1,19],[6.35,17],[6.6,15],[6.8,19],[6.9,15],[7.2,13],[7.5,12],[7.75,15],[7.85,12],[8.2,11],[8.5,10],[8.8,12],[8.95,10],[9.3,9],[9.7,8.5],[10.0,10],[10.1,8],[10.5,7.5],[11,6.5],[11.5,5.5],[12,5]];
const y48 = [[0,4.1],[1,3.5],[2,3.1],[3,2.7],[3.6,2.9],[3.8,6],[3.95,30],[4.03,55],[4.08,60],[4.15,48],[4.25,42],[4.35,50],[4.45,68],[4.55,80],[4.62,70],[4.72,52],[4.88,38],[5.05,30],[5.3,23],[5.55,18],[5.8,15],[6.0,13],[6.2,17],[6.3,13],[6.55,11],[6.8,10],[7.05,13],[7.15,10],[7.45,9],[7.75,8],[8.0,11],[8.15,8.5],[8.5,7.5],[8.85,7],[9.15,9.5],[9.3,7.5],[9.7,6.5],[10.1,6],[10.6,5.5],[11.1,5],[11.6,4.5],[12,4.3]];
const y49 = [[0,4.4],[1,3.8],[2,3.3],[3,2.9],[3.7,3.1],[3.95,7],[4.1,20],[4.22,55],[4.32,120],[4.4,185],[4.46,160],[4.54,110],[4.64,75],[4.78,55],[4.95,42],[5.15,33],[5.4,26],[5.65,21],[5.9,18],[6.1,21],[6.2,17],[6.45,15],[6.7,13],[6.95,16],[7.05,13],[7.35,12],[7.65,11],[7.9,14],[8.05,11],[8.4,10],[8.7,9.5],[9.0,11],[9.15,9],[9.5,8.5],[9.9,8],[10.3,8.5],[10.45,7.5],[10.9,6.5],[11.4,5.5],[12,5]];
const y50 = [[0,5],[1,4.3],[2,3.7],[3,3.2],[3.6,3.4],[3.85,8],[4.0,28],[4.1,75],[4.18,140],[4.25,175],[4.31,150],[4.4,100],[4.52,70],[4.68,52],[4.88,40],[5.1,31],[5.35,25],[5.6,21],[5.85,18],[6.05,16],[6.25,20],[6.35,16],[6.6,14],[6.85,13],[7.1,16],[7.2,13],[7.5,12],[7.8,11],[8.0,14],[8.15,11],[8.45,10],[8.8,9.5],[9.1,11],[9.25,9],[9.6,8.5],[10.0,8],[10.5,7.5],[11,6.5],[11.5,5.8],[12,5.2]];
const y51 = [[0,3.6],[1,3.1],[2,2.7],[3,2.4],[4.0,2.6],[4.25,6],[4.38,20],[4.47,50],[4.55,100],[4.62,160],[4.68,140],[4.76,105],[4.86,88],[4.96,75],[5.1,58],[5.25,45],[5.45,36],[5.7,29],[5.95,24],[6.2,21],[6.4,19],[6.6,23],[6.7,19],[6.95,17],[7.25,15],[7.5,18],[7.6,15],[7.9,14],[8.2,13],[8.5,15],[8.6,13],[8.9,12],[9.2,11],[9.5,13],[9.6,11],[9.95,10],[10.4,9],[10.9,8],[11.4,7],[12,6]];
const y52 = [[0,4],[1,3.5],[2,3],[3,2.7],[3.7,2.9],[3.95,6],[4.1,22],[4.2,60],[4.27,110],[4.33,145],[4.4,125],[4.5,88],[4.62,62],[4.78,46],[4.98,36],[5.2,28],[5.45,22],[5.7,18],[5.95,15],[6.2,13],[6.4,16],[6.5,13],[6.8,11],[7.1,10],[7.35,13],[7.45,10],[7.8,9],[8.1,8.5],[8.4,11],[8.5,9],[8.85,8],[9.2,7.5],[9.5,9],[9.6,7.5],[10.0,7],[10.5,6.5],[11,5.8],[11.5,5],[12,4.6]];
const y53 = [[0,4.9],[1,4.2],[2,3.6],[3,3.2],[3.8,3.4],[4.05,7],[4.2,18],[4.3,38],[4.38,65],[4.44,90],[4.5,120],[4.56,112],[4.63,98],[4.7,104],[4.76,92],[4.85,75],[4.95,60],[5.08,48],[5.25,39],[5.45,32],[5.7,27],[5.95,23],[6.15,26],[6.25,22],[6.5,20],[6.75,18],[6.95,22],[7.05,19],[7.3,17],[7.55,16],[7.8,20],[7.9,17],[8.2,15],[8.5,14],[8.75,17],[8.85,14],[9.15,13],[9.45,12],[9.75,15],[9.85,12],[10.2,11],[10.6,10],[11.1,8.5],[11.6,7.5],[12,7]];
const y54 = [[0,3.3],[1,2.9],[2,2.6],[3,2.3],[3.6,2.5],[3.85,6],[3.98,20],[4.08,50],[4.15,80],[4.2,95],[4.27,85],[4.37,65],[4.5,48],[4.7,36],[4.95,27],[5.2,21],[5.5,16],[5.8,13],[6.05,11],[6.3,9.5],[6.55,12],[6.65,9],[6.95,8],[7.25,7],[7.5,9],[7.6,7],[7.9,6.2],[8.2,5.8],[8.5,7],[8.6,5.6],[8.95,5.2],[9.3,5],[9.6,6],[9.7,4.8],[10.1,4.5],[10.6,4.2],[11.1,3.9],[11.6,3.6],[12,3.4]];
const y55 = [[0,3.9],[1,3.4],[2,3],[3,2.6],[3.8,2.8],[4.05,6],[4.2,18],[4.3,45],[4.38,100],[4.43,155],[4.47,190],[4.52,165],[4.6,115],[4.7,78],[4.83,55],[5.0,41],[5.2,32],[5.45,25],[5.7,20],[5.95,17],[6.15,15],[6.4,18],[6.5,15],[6.8,13],[7.1,12],[7.4,14],[7.5,12],[7.8,11],[8.1,10],[8.4,12],[8.5,10],[8.8,9],[9.1,8.5],[9.45,10],[9.55,8.5],[9.9,8],[10.35,7.5],[10.8,6.5],[11.3,5.8],[12,5]];
const y56 = [[0,4.6],[1,4],[2,3.5],[3,3.1],[4.0,3.3],[4.3,6],[4.48,18],[4.58,45],[4.66,90],[4.72,130],[4.78,115],[4.86,90],[4.96,72],[5.08,58],[5.2,50],[5.35,44],[5.5,40],[5.62,46],[5.7,52],[5.78,42],[5.95,34],[6.15,29],[6.35,25],[6.55,23],[6.7,28],[6.8,24],[7.05,21],[7.3,19],[7.55,22],[7.65,19],[7.9,17],[8.2,16],[8.5,15],[8.8,18],[8.9,15],[9.2,14],[9.5,13],[9.8,15],[9.9,13],[10.25,12],[10.7,10.5],[11.2,9],[11.7,8],[12,7.5]];

const greyYears = [y01,y02,y03,y04,y05,y06,y07,y08,y09,y10,y11,y12,y13,y14,y15,y16,y17,y18,y19,y20,y21,y22,y23,y24,y25,y26,y27,y28,y29,y30,y31,y32,y33,y34,y35,y36,y37,y38,y39,y40,y41,y42,y43,y44,y45,y46,y47,y48,y49,y50,y51,y52,y53,y54,y55,y56];

const greyData = greyYears.flatMap((trace, k) => trace.map(([m, v]) => ({trace: k, m, v})));
const obsData = observedMonth.map((m, i) => ({m, v: observedFlow[i]}));

const font = "'Liberation Sans', Arial, Helvetica, sans-serif";
const dash = "3,3";

const chart = Plot.plot({
  width: 1544,
  height: 1286,
  marginLeft: 50,
  marginRight: 8.3,
  marginTop: 9,
  marginBottom: 44,
  style: {fontFamily: font, fontSize: "12px", background: "white", color: "black", overflow: "visible"},
  x: {domain: [0, 12.967]},
  y: {domain: [-34, 261]},
  marks: [
    Plot.ruleX(gridMonths, {x: d => d, stroke: "black", strokeWidth: 1, strokeDasharray: dash}),
    Plot.ruleY(yMajor, {y: d => d, stroke: "black", strokeWidth: 1, strokeDasharray: dash}),
    Plot.line(greyData, {x: "m", y: "v", z: "trace", stroke: "#bebebe", strokeWidth: 1}),
    Plot.line(obsData, {x: "m", y: "v", stroke: "black", strokeWidth: 3.6, strokeLinejoin: "round"}),
    Plot.frame({stroke: "black", strokeWidth: 1}),
    Plot.axisY(yMinor, {tickSize: 5, tickFormat: () => "", label: null}),
    Plot.axisY(yMajor, {tickSize: 13, tickPadding: 15, textAnchor: "middle", label: null,
      tickFormat: d => yMajorLabels[yMajor.indexOf(d)]}),
    Plot.axisX(monthBounds, {tickSize: 12, tickFormat: () => "", label: null}),
    Plot.axisX(monthLabelPos, {tickSize: 0, tickPadding: 20, label: null,
      tickFormat: d => monthLabels[monthLabelPos.indexOf(d)]}),
    Plot.text([yAxisTitle], {text: d => d, frameAnchor: "top-left", rotate: -90, textAnchor: "end",
      dx: -25, dy: 1, fontSize: 13})
  ]
});
document.getElementById("chart").appendChild(chart);
</script>
</body></html>
